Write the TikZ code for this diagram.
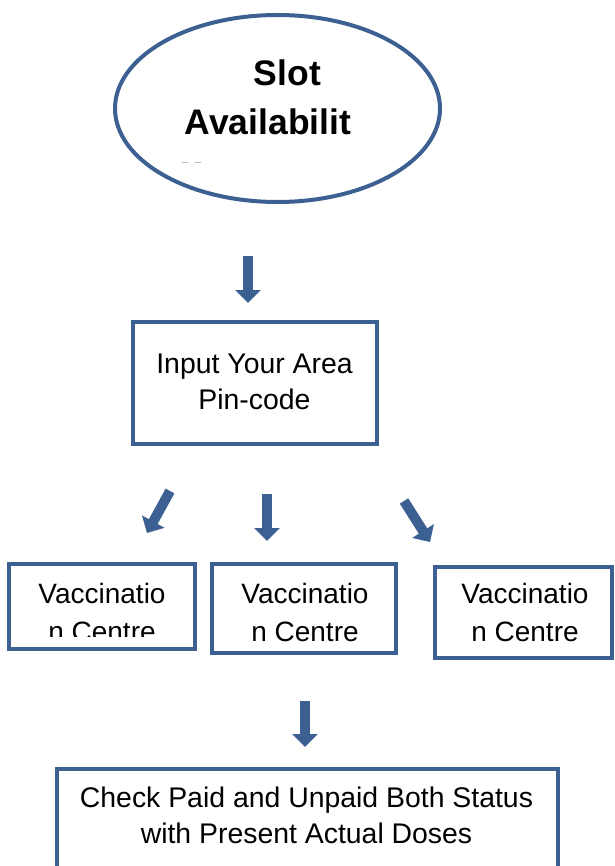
\documentclass[tikz,border=0pt]{standalone}
\usepackage{fontspec}
\setmainfont{Liberation Sans}
\usetikzlibrary{arrows.meta,shapes.geometric}
\definecolor{bblue}{RGB}{60,96,145}
\begin{document}
\begin{tikzpicture}[x=1pt,y=-1pt,
  shapebox/.style={draw=bblue, line width=4pt, rectangle, inner sep=0pt},
  txtA/.style={align=center, anchor=base, inner sep=0pt, font=\fontsize{28.4}{36}\selectfont},
  txtB/.style={align=center, anchor=base, inner sep=0pt, font=\fontsize{28}{38.5}\selectfont},
  ttl/.style={anchor=base, inner sep=0pt, font=\fontsize{35.5}{48}\selectfont\bfseries},
  blockarrow/.style={bblue, line width=10pt, -{Triangle[width=25pt,length=13pt]}}]
\clip (0,0) rectangle (614,866);
\fill[white] (0,0) rectangle (614,866);
% ellipse
\node[ellipse, draw=bblue, line width=4pt, minimum width=325pt, minimum height=187pt, inner sep=0pt] (slot) at (277.5,108.5) {};
\node[ttl] (slotA) at (287.5,86) {Slot};
\node[ttl] (slotB) at (268,135) {Availabilit};
\draw[gray!55, line width=1pt] (182,163) -- (188,163) (195,163) -- (201,163);
% arrow 1
\coordinate (a1s) at (248,256);
\coordinate (a1e) at (248,303);
\draw[blockarrow] (a1s) -- (a1e);
% input box
\node[shapebox, minimum width=244pt, minimum height=122pt] (inp) at (255,383) {};
\node[txtA] (inpt) at (254.5,409) {Input Your Area\\Pin-code};
% arrows to centres
\coordinate (aAs) at (170,491);
\coordinate (aAe) at (147,533);
\draw[blockarrow] (aAs) -- (aAe);
\coordinate (aBs) at (267,494);
\coordinate (aBe) at (267,541);
\draw[blockarrow] (aBs) -- (aBe);
\coordinate (aCs) at (404,501);
\coordinate (aCe) at (430,542);
\draw[blockarrow] (aCs) -- (aCe);
% centre boxes
\node[shapebox, minimum width=186pt, minimum height=85pt] (vA) at (102,606.5) {};
\begin{scope}
\clip (9,566) rectangle (195,636);
\node[txtB] (vAt) at (102,641.5) {Vaccinatio\\n Centre};
\end{scope}
\node[shapebox, minimum width=184pt, minimum height=89pt] (vB) at (304,608.5) {};
\node[txtB] (vBt) at (305,641.5) {Vaccinatio\\n Centre};
\node[shapebox, minimum width=177pt, minimum height=91pt] (vC) at (523.5,612.5) {};
\node[txtB] (vCt) at (525,641.5) {Vaccinatio\\n Centre};
% arrow D
\coordinate (aDs) at (305,701);
\coordinate (aDe) at (305,747);
\draw[blockarrow] (aDs) -- (aDe);
% final box
\node[shapebox, minimum width=501pt, minimum height=121pt] (fin) at (307.5,829.5) {};
\node[txtA] (fint) at (306.5,843) {Check Paid and Unpaid Both Status\\with Present Actual Doses};
\end{tikzpicture}
\end{document}
